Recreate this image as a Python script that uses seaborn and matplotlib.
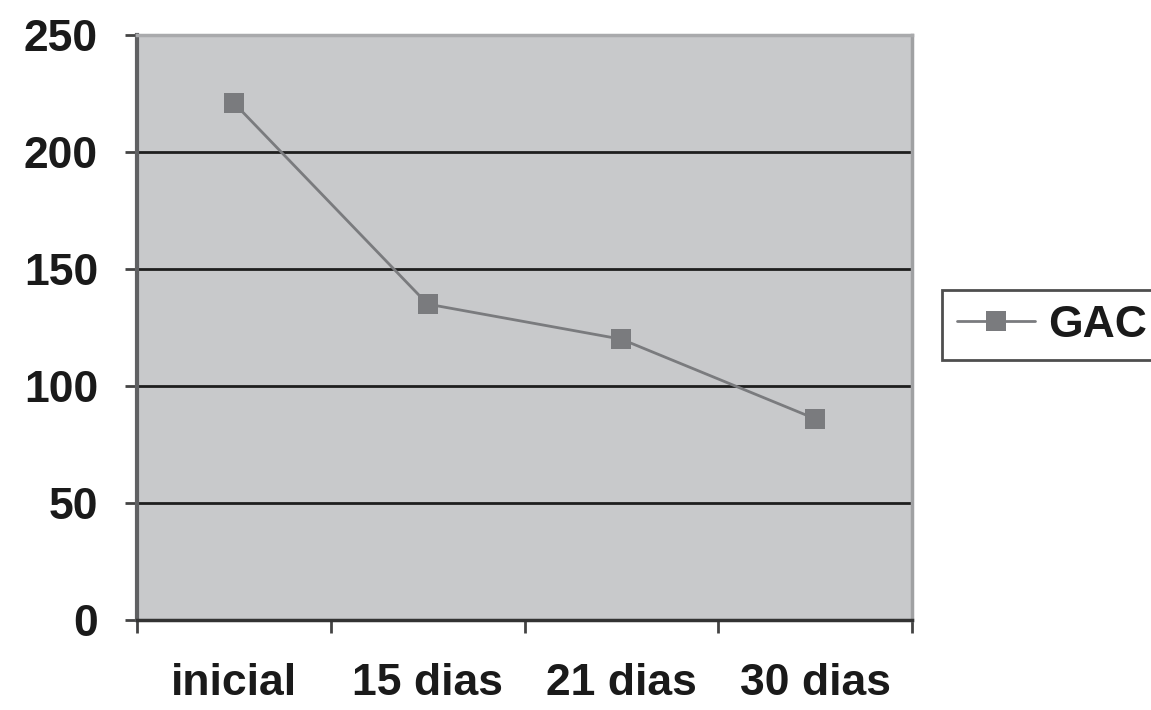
import matplotlib
matplotlib.use("Agg")
import matplotlib.pyplot as plt
import seaborn as sns
import pandas as pd

# Series values
periods = ["inicial", "15 dias", "21 dias", "30 dias"]
gac_values = [221, 135, 120, 86]
y_ticks = [0, 50, 100, 150, 200, 250]

df = pd.DataFrame({"periodo": periods, "GAC": gac_values})
df["pos"] = range(len(periods))

sns.set_theme(style="white")
plt.rcParams["font.family"] = ["Liberation Sans", "DejaVu Sans"]
plt.rcParams["font.weight"] = "bold"

FS = 32

fig = plt.figure(figsize=(11.51, 7.10), dpi=100)
ax = fig.add_axes([137 / 1151, 1 - 620 / 710, (912 - 137) / 1151, (620 - 35) / 710])
ax.set_facecolor("#c8c9cb")

sns.lineplot(data=df, x="pos", y="GAC", ax=ax, color="#7a7b7e", linewidth=2,
             marker="s", markersize=14.5, markeredgewidth=0, label="GAC")

ax.set_xlim(-0.5, len(periods) - 0.5)
ax.set_ylim(0, 250)
ax.set_yticks(y_ticks)
ax.set_yticklabels([str(v) for v in y_ticks], fontsize=FS, fontweight="bold", color="#1a1a1a")

# category boundaries carry the ticks, labels sit at the centers
ax.set_xticks([i - 0.5 for i in range(len(periods) + 1)])
ax.set_xticklabels([])
for i, p in enumerate(periods):
    ax.text(i, -0.108, p, transform=ax.get_xaxis_transform(), ha="center", va="center",
            fontsize=FS, fontweight="bold", color="#1a1a1a")

ax.set_xlabel("")
ax.set_ylabel("")
for v in y_ticks[1:-1]:
    ax.axhline(v, color="#1e1e1e", linewidth=2, zorder=1)

ax.tick_params(axis="y", direction="out", length=9, width=2, color="#444444", pad=19, left=True)
ax.tick_params(axis="x", direction="out", length=9, width=2, color="#444444", bottom=True)

ax.spines["left"].set_color("#606163")
ax.spines["left"].set_linewidth(3)
ax.spines["bottom"].set_color("#333333")
ax.spines["bottom"].set_linewidth(2.5)
ax.spines["top"].set_color("#a9aaac")
ax.spines["top"].set_linewidth(2.5)
ax.spines["right"].set_color("#a0a1a3")
ax.spines["right"].set_linewidth(2.5)

leg = ax.legend(loc="center left", bbox_to_anchor=(1.039, 0.504), fontsize=FS,
                frameon=True, fancybox=False, handlelength=1.75, borderpad=0.33,
                handletextpad=0.3, borderaxespad=0)
leg.get_frame().set_edgecolor("#222222")
leg.get_frame().set_linewidth(2)
for t in leg.get_texts():
    t.set_fontweight("bold")
    t.set_color("#1a1a1a")

fig.savefig("out.png", dpi=100)
